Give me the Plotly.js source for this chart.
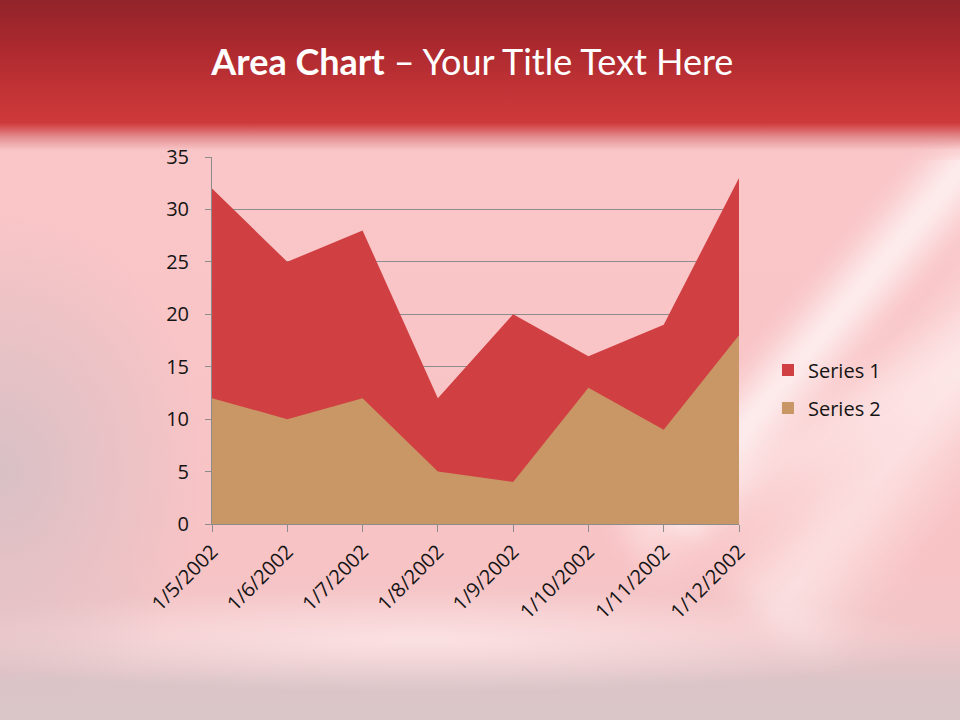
<!DOCTYPE html>
<html>
<head>
<meta charset="utf-8">
<script src="https://cdn.plot.ly/plotly-3.0.1.min.js"></script>
<style>
  html, body { margin: 0; padding: 0; }
  body {
    width: 960px; height: 720px; overflow: hidden; position: relative;
    background:
      radial-gradient(ellipse 260px 320px at 0px 470px, rgba(214,192,197,0.95), rgba(214,192,197,0) 80%),
      radial-gradient(ellipse 700px 70px at 420px 640px, rgba(255,232,234,0.8), rgba(255,232,234,0) 75%),
      linear-gradient(to bottom, #fac6c8 150px, #f8c3c5 560px, #f2c6c8 630px, #dcc4c7 680px, #d9c6c8 720px);
  }
  .glow { position: absolute; pointer-events: none; }
  #head {
    left: 0; top: 0; width: 960px; height: 160px;
    background: linear-gradient(to bottom, #92232a 0px, #ad2a2f 50px, #c63537 100px, #cf3a3c 123px, #e59294 138px, rgba(248,196,198,0.6) 150px, rgba(248,196,198,0) 165px);
  }
  #s1 {
    left: 790px; top: 60px; width: 90px; height: 520px;
    transform: rotate(40deg);
    background: linear-gradient(to right, rgba(255,255,255,0), rgba(255,255,255,0.75) 50%, rgba(255,255,255,0));
    filter: blur(8px);
  }
  #s2 {
    left: 860px; top: 120px; width: 160px; height: 560px;
    transform: rotate(38deg);
    background: linear-gradient(to right, rgba(255,255,255,0), rgba(255,244,244,0.6) 50%, rgba(255,255,255,0));
    filter: blur(14px);
  }
  #s3 {
    left: 600px; top: 360px; width: 500px; height: 120px;
    transform: rotate(-28deg);
    background: linear-gradient(to bottom, rgba(255,255,255,0), rgba(255,240,240,0.55) 50%, rgba(255,255,255,0));
    filter: blur(12px);
  }
  #chart { position: absolute; left: 0; top: 0; width: 960px; height: 720px; }
</style>
</head>
<body>
<div class="glow" id="s2"></div>
<div class="glow" id="s1"></div>
<div class="glow" id="s3"></div>
<div class="glow" id="head"></div>
<div id="chart"></div>
<script>
// slide data
var dates = ['1/5/2002', '1/6/2002', '1/7/2002', '1/8/2002', '1/9/2002', '1/10/2002', '1/11/2002', '1/12/2002'];
var series1 = [32, 25, 28, 12, 20, 16, 19, 33];
var series2 = [12, 10, 12, 5, 4, 13, 9, 18];
var seriesNames = ['Series 1', 'Series 2'];
var seriesColors = ['#d04042', '#c99766'];

var data = [{
  x: dates,
  y: series1,
  name: seriesNames[0],
  type: 'scatter',
  mode: 'none',
  fill: 'tozeroy',
  fillcolor: seriesColors[0],
  legendgroup: 's1',
  showlegend: false
}, {
  x: dates,
  y: series2,
  name: seriesNames[1],
  type: 'scatter',
  mode: 'none',
  fill: 'tozeroy',
  fillcolor: seriesColors[1],
  legendgroup: 's2',
  showlegend: false
}];

// square legend keys like the office chart (no visible bars)
seriesNames.forEach(function (n, i) {
  data.push({
    x: [dates[0]], y: [null], type: 'bar', name: n,
    marker: {color: seriesColors[i]},
    legendgroup: 's' + (i + 1), showlegend: true
  });
});

var layout = {
  width: 960,
  height: 720,
  paper_bgcolor: 'rgba(0,0,0,0)',
  plot_bgcolor: 'rgba(0,0,0,0)',
  margin: {l: 212, r: 221, t: 157, b: 196},
  font: {family: '"Open Sans", sans-serif', size: 20, color: '#141414'},
  title: {
    text: '<b>Area Chart</b> – Your Title Text Here',
    font: {family: 'Lato, sans-serif', size: 36, color: '#ffffff'},
    x: 0.492, xref: 'container', xanchor: 'center',
    y: 0.913, yref: 'container', yanchor: 'middle'
  },
  xaxis: {
    type: 'category',
    range: [0, 7],
    showgrid: false,
    zeroline: false,
    showline: true,
    linecolor: '#8c8c8c',
    linewidth: 1,
    ticks: 'outside',
    ticklen: 7,
    tickcolor: '#8c8c8c',
    tickangle: -45,
    tickfont: {size: 20, color: '#141414'}
  },
  yaxis: {
    range: [0, 35],
    dtick: 5,
    showgrid: true,
    gridcolor: '#8c8c8c',
    gridwidth: 1,
    zeroline: false,
    showline: true,
    linecolor: '#8c8c8c',
    ticks: 'outside',
    ticklen: 6,
    tickcolor: '#8c8c8c',
    ticklabelstandoff: 12,
    tickfont: {size: 20, color: '#141414'}
  },
  showlegend: true,
  legend: {
    x: 1.055, xanchor: 'left',
    y: 0.368, yanchor: 'middle',
    bgcolor: 'rgba(0,0,0,0)',
    font: {size: 20, color: '#141414'},
    traceorder: 'grouped',
    tracegroupgap: 9
  }
};

Plotly.newPlot('chart', data, layout, {displayModeBar: false, staticPlot: true});
</script>
</body>
</html>
